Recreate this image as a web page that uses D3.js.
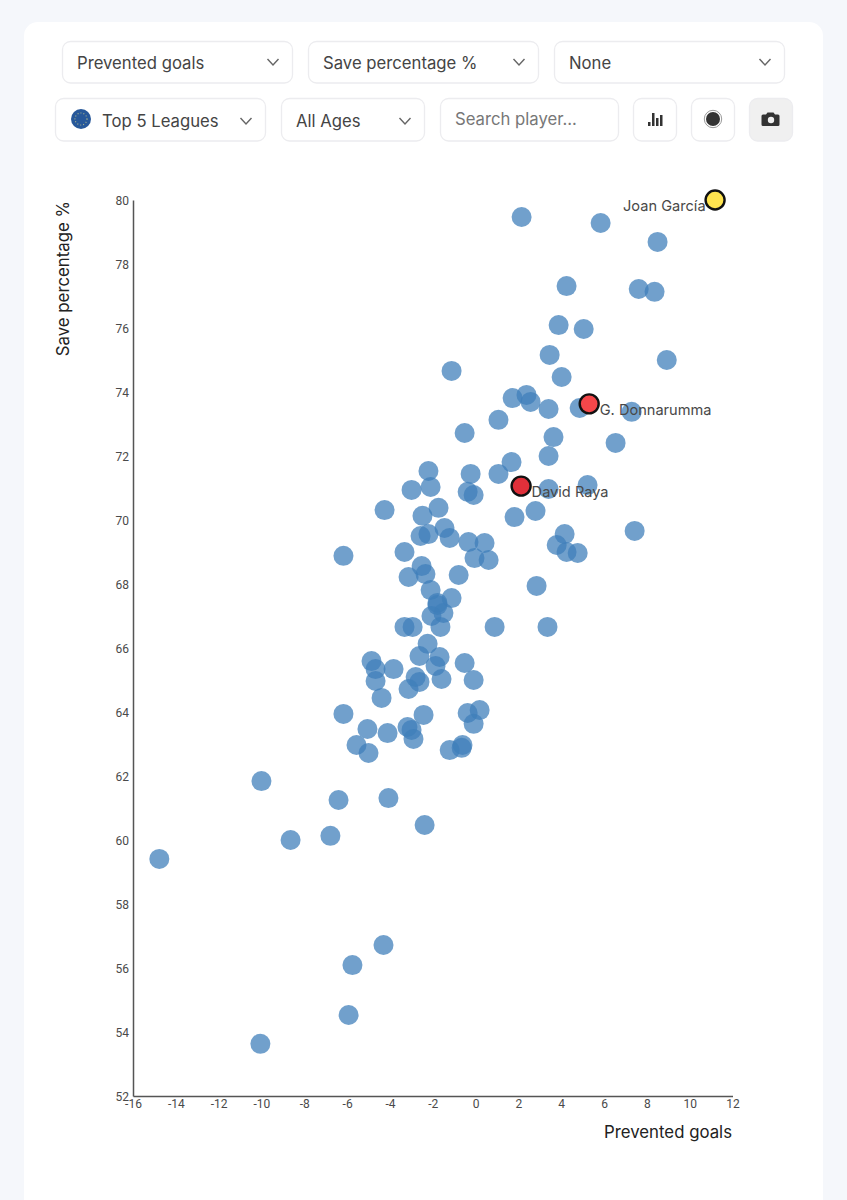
<!DOCTYPE html>
<html>
<head>
<meta charset="utf-8">
<title>Prevented goals vs save percentage</title>
<script src="https://d3js.org/d3.v7.min.js"></script>
<style>
  html, body { margin: 0; padding: 0; background: #f5f7fb; overflow: hidden; }
  svg { display: block; }
  .ctl { font-family: Inter, sans-serif; font-size: 16.7px; fill: #444; }
  .tick text { font-family: Roboto, sans-serif; font-size: 12px; fill: #4a4a4a; }
  .axis-title { font-family: Inter, sans-serif; font-size: 16.8px; fill: #222; }
  .name { font-family: Inter, sans-serif; font-size: 14.6px; fill: #484848; }
</style>
</head>
<body>
<svg width="847" height="1200"></svg>
<script>
// values
const preventedGoals = [2.15,5.84,8.50,4.25,7.62,8.36,3.88,5.05,3.46,8.93,-1.12,4.02,1.73,2.38,2.57,3.41,4.86,7.29,1.07,-0.51,3.64,6.54,3.41,1.68,-2.20,-0.23,1.07,5.23,-2.10,3.41,-2.99,-0.37,-0.09,-1.73,-4.25,1.82,2.80,-2.48,-1.45,-2.20,-2.57,-1.21,4.16,7.43,-0.33,0.42,3.79,-3.32,-6.17,4.25,4.77,-0.05,0.61,-2.52,-2.34,-3.13,-0.79,2.85,-2.10,-1.12,-1.78,-1.78,-1.50,-2.06,-3.32,-2.94,-1.64,0.89,3.36,-2.24,-2.62,-1.68,-1.87,-0.51,-4.86,-4.67,-3.83,-2.80,-2.62,-4.67,-1.59,-0.09,-3.13,-4.39,-6.17,-2.43,0.19,-0.37,-0.09,-5.05,-3.18,-2.99,-4.11,-2.90,-5.56,-5.00,-0.61,-0.65,-1.21,-10.00,-6.40,-4.07,-6.78,-8.64,-2.38,-14.77,-4.30,-5.75,-5.93,-10.05];
const savePercentage = [79.47,79.28,78.69,77.31,77.22,77.13,76.09,75.97,75.16,75.00,74.66,74.47,73.81,73.91,73.69,73.47,73.50,73.38,73.13,72.72,72.59,72.41,72.00,71.81,71.53,71.44,71.44,71.09,71.03,70.97,70.94,70.88,70.78,70.38,70.31,70.09,70.28,70.13,69.75,69.56,69.50,69.44,69.56,69.66,69.31,69.28,69.22,69.00,68.88,69.00,68.97,68.81,68.75,68.56,68.31,68.22,68.28,67.94,67.81,67.56,67.41,67.34,67.09,67.00,66.66,66.66,66.66,66.66,66.66,66.13,65.75,65.72,65.44,65.53,65.59,65.34,65.34,65.09,64.94,64.97,65.03,65.00,64.72,64.44,63.94,63.91,64.06,63.97,63.63,63.47,63.53,63.44,63.34,63.16,62.97,62.72,62.97,62.88,62.81,61.84,61.25,61.31,60.13,60.00,60.47,59.41,56.72,56.09,54.53,53.63];

const highlightNames = ["G. Donnarumma", "David Raya", "Joan García"];
const highlightX = [5.33, 2.15, 11.21];
const highlightY = [73.63, 71.06, 80.0];
const highlightFill = ["#f5474a", "#e0303a", "#ffe44f"];

const xTicks = d3.range(-16, 13, 2);
const yTicks = d3.range(52, 81, 2);
const xTitle = "Prevented goals";
const yTitle = "Save percentage %";

const selects = ["Prevented goals", "Save percentage %", "None", "Top 5 Leagues", "All Ages"];
const searchHint = "Search player...";

const svg = d3.select("svg");

// card
svg.append("rect").attr("x", 24).attr("y", 22).attr("width", 799).attr("height", 1230)
   .attr("rx", 14).attr("fill", "#fff");

// controls
function box(x, y, w, h, fill) {
    svg.append("rect").attr("x", x + 0.5).attr("y", y + 0.5).attr("width", w - 1).attr("height", h - 0.5)
       .attr("rx", 8).attr("fill", fill || "#fff").attr("stroke", "#ececef").attr("stroke-width", 1.3);
}
function chevron(x, y) {
    svg.append("path").attr("d", `M${x - 5.5},${y - 3}L${x},${y + 3}L${x + 5.5},${y - 3}`)
       .attr("fill", "none").attr("stroke", "#666").attr("stroke-width", 1.4);
}
function label(t, x, y, color) {
    svg.append("text").attr("class", "ctl").attr("x", x).attr("y", y).style("fill", color || "#444").text(t);
}

box(62, 41, 231, 42);  label(selects[0], 77, 69);  chevron(273, 62);
box(308, 41, 231, 42); label(selects[1], 323, 69); chevron(519, 62);
box(554, 41, 231, 42); label(selects[2], 569, 69); chevron(765, 62);
box(55, 98, 211, 43);  label(selects[3], 102, 126.5); chevron(246, 121);
box(281, 98, 144, 43); label(selects[4], 296, 126.5); chevron(405, 121);
box(440, 98, 179, 43); label(searchHint, 455, 125, "#777");
box(633, 98, 44, 43);
box(691, 98, 44, 43);
box(749, 98, 44, 43, "#f0f0f0");

// league badge
svg.append("circle").attr("cx", 81).attr("cy", 119).attr("r", 10).attr("fill", "#27589a");
svg.append("circle").attr("cx", 81).attr("cy", 119).attr("r", 6).attr("fill", "none")
   .attr("stroke", "#a9b48a").attr("stroke-width", 1.1).attr("stroke-dasharray", "1 2");

// bars icon
[[648, 4], [652, 13], [656, 8], [660, 11]].forEach(b => {
    svg.append("rect").attr("x", b[0]).attr("y", 126 - b[1]).attr("width", 2.5).attr("height", b[1]).attr("fill", "#333");
});
// dot icon
svg.append("circle").attr("cx", 713).attr("cy", 119).attr("r", 7).attr("fill", "#333");
svg.append("circle").attr("cx", 713).attr("cy", 119).attr("r", 8.7).attr("fill", "none")
   .attr("stroke", "#999").attr("stroke-width", 1);
// camera icon
svg.append("path").attr("d", "M763,114.5h3l1.5,-2h6l1.5,2h3a1.5,1.5 0 0 1 1.5,1.5v8.5a1.5,1.5 0 0 1 -1.5,1.5h-15a1.5,1.5 0 0 1 -1.5,-1.5v-8.5a1.5,1.5 0 0 1 1.5,-1.5z")
   .attr("fill", "#333");
svg.append("circle").attr("cx", 771).attr("cy", 120).attr("r", 3.2).attr("fill", "#f0f0f0");

// chart
const x = d3.scaleLinear().domain([-16, 12]).range([133, 732.5]);
const y = d3.scaleLinear().domain([52, 80]).range([1096, 200]);

const xAxis = svg.append("g").attr("transform", "translate(0,1096)")
    .call(d3.axisBottom(x).tickValues(xTicks).tickSize(0).tickPadding(3).tickFormat(d => d));
const yAxis = svg.append("g").attr("transform", "translate(133,0)")
    .call(d3.axisLeft(y).tickValues(yTicks).tickSize(0).tickPadding(4).tickFormat(d => d));
[xAxis, yAxis].forEach(a => {
    a.select(".domain").attr("stroke", "#555").attr("stroke-width", 1.5);
    a.attr("font-family", null).attr("font-size", null);
});
yAxis.selectAll("text").attr("dy", "0.4em");

svg.append("text").attr("class", "axis-title").attr("x", 732).attr("y", 1138)
   .attr("text-anchor", "end").text(xTitle);
svg.append("text").attr("class", "axis-title")
   .attr("transform", "translate(69,201) rotate(-90)")
   .attr("text-anchor", "end").text(yTitle);

svg.append("g").selectAll("circle").data(preventedGoals).join("circle")
   .attr("cx", d => x(d))
   .attr("cy", (d, i) => y(savePercentage[i]))
   .attr("r", 10)
   .attr("fill", "#3f7fba")
   .attr("fill-opacity", 0.74);

// highlighted players
const hi = svg.append("g").selectAll("g").data(highlightNames).join("g");
hi.append("circle")
   .attr("cx", (d, i) => x(highlightX[i]) - 0.5)
   .attr("cy", (d, i) => y(highlightY[i]))
   .attr("r", 9.5)
   .attr("fill", (d, i) => highlightFill[i])
   .attr("stroke", "#111")
   .attr("stroke-width", 2.4);
hi.append("text")
   .attr("class", "name")
   .attr("x", (d, i) => x(highlightX[i]) + (i === 2 ? -10 : 10))
   .attr("y", (d, i) => y(highlightY[i]) + 11)
   .attr("text-anchor", (d, i) => i === 2 ? "end" : "start")
   .text(d => d);
</script>
</body>
</html>
